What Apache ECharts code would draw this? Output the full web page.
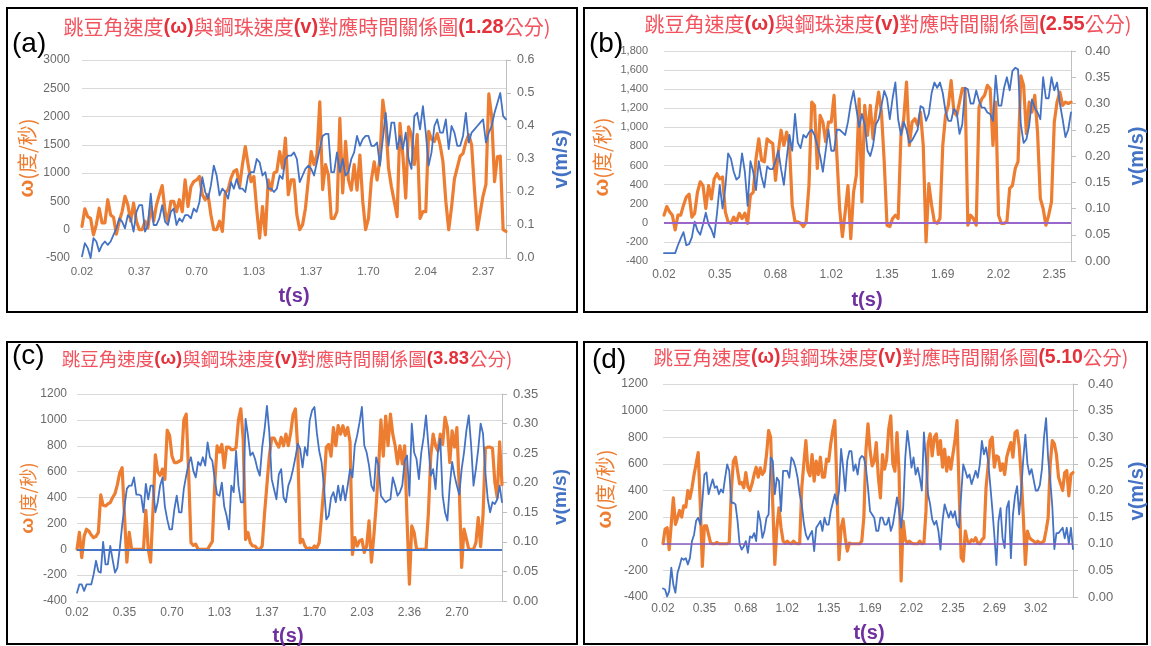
<!DOCTYPE html>
<html>
<head>
<meta charset="utf-8">
<script src="https://cdn.jsdelivr.net/npm/echarts@6/dist/echarts.min.js"></script>
<style>
  html, body { margin: 0; padding: 0; background: #ffffff; }
  #chart { width: 1151px; height: 646px; }
</style>
</head>
<body>
<div id="chart"></div>
<script>
// ---- measured data: ω (度/秒) and v (m/s) per video frame ----
const omegaA = [
  60,370,230,200,-90,90,380,120,120,530,
  260,220,-80,150,320,590,440,150,470,150,
  0,0,150,30,410,150,440,620,780,320,
  150,500,500,320,530,320,880,410,760,850,
  880,940,620,530,620,260,0,0,150,-30,
  650,710,910,1030,1060,760,1150,1470,1150,850,
  940,350,-150,410,-90,880,700,1000,1030,1380,
  1090,1620,620,880,880,260,0,90,380,880,
  1380,1150,1320,2260,710,1150,970,200,200,320,
  1970,650,1560,880,700,1150,700,1320,500,0,
  200,880,1200,880,1260,2290,1910,1090,760,500,
  230,1880,1320,560,1820,1680,1150,1680,200,320,
  320,1740,1600,1560,1700,1500,1200,500,0,400,
  900,1100,1300,1350,1550,1680,1500,700,0,300,
  600,800,2400,2000,850,1290,1300,0,-30
];
const speedA = [
  0.005,0.045,0.03,0.0,0.06,0.05,0.02,0.04,0.05,0.04,
  0.05,0.07,0.09,0.12,0.11,0.09,0.13,0.12,0.08,0.14,
  0.16,0.16,0.08,0.1,0.195,0.1,0.1,0.12,0.16,0.11,
  0.1,0.14,0.15,0.1,0.12,0.11,0.13,0.13,0.12,0.15,
  0.14,0.17,0.245,0.2,0.18,0.22,0.28,0.25,0.19,0.21,
  0.2,0.18,0.23,0.21,0.24,0.21,0.21,0.2,0.25,0.26,
  0.26,0.3,0.29,0.25,0.26,0.21,0.21,0.2,0.21,0.25,
  0.24,0.3,0.31,0.31,0.32,0.3,0.23,0.25,0.27,0.28,
  0.27,0.25,0.29,0.33,0.37,0.376,0.376,0.26,0.26,0.32,
  0.26,0.3,0.25,0.26,0.3,0.32,0.37,0.34,0.36,0.37,
  0.37,0.34,0.34,0.35,0.28,0.36,0.44,0.34,0.41,0.41,
  0.33,0.37,0.33,0.38,0.3,0.27,0.43,0.44,0.39,0.46,
  0.38,0.28,0.32,0.4,0.42,0.38,0.38,0.42,0.33,0.4,
  0.38,0.34,0.34,0.37,0.44,0.35,0.38,0.39,0.4,0.41,
  0.42,0.35,0.38,0.4,0.44,0.47,0.5,0.43,0.42
];
const omegaB = [
  80,170,115,80,-75,80,80,185,270,300,
  60,100,320,430,390,150,390,250,460,515,
  460,480,115,10,-5,60,10,100,45,100,
  -5,290,320,670,880,655,640,880,850,830,
  445,740,970,810,950,810,185,10,10,-5,
  -40,10,390,1265,1230,570,1125,1055,850,1055,
  1055,1335,710,150,-145,115,390,-165,320,500,
  1300,220,1230,915,1230,880,1160,1370,1160,640,
  -25,-40,45,80,45,915,1090,1475,810,1055,
  1090,1020,1160,810,-200,410,185,10,-5,45,
  810,1125,1230,1490,1160,1125,1265,1405,1405,-25,
  80,45,-25,1210,1300,1335,1440,1405,810,1265,
  80,-5,-5,10,360,390,570,640,1540,1440,
  935,1265,1160,1335,950,255,150,-25,80,220,
  1055,1265,1370,1230,1265,1250,1265
];
const speedB = [
  0.015,0.015,0.015,0.015,0.015,0.03,0.043,0.055,0.03,0.032,
  0.045,0.075,0.058,0.05,0.07,0.092,0.07,0.06,0.045,0.09,
  0.145,0.1,0.14,0.205,0.195,0.17,0.155,0.16,0.205,0.17,
  0.105,0.19,0.17,0.135,0.19,0.16,0.14,0.18,0.175,0.175,
  0.19,0.21,0.175,0.145,0.195,0.24,0.21,0.28,0.225,0.215,
  0.24,0.235,0.245,0.25,0.24,0.22,0.2,0.17,0.21,0.25,
  0.21,0.21,0.25,0.25,0.245,0.24,0.265,0.3,0.324,0.29,
  0.255,0.28,0.26,0.21,0.2,0.22,0.26,0.27,0.295,0.324,
  0.31,0.27,0.31,0.34,0.27,0.24,0.265,0.25,0.225,0.23,
  0.24,0.25,0.295,0.292,0.267,0.28,0.32,0.34,0.33,0.34,
  0.32,0.285,0.267,0.267,0.29,0.283,0.242,0.26,0.33,0.327,
  0.3,0.3,0.325,0.305,0.292,0.292,0.283,0.28,0.267,0.353,
  0.296,0.296,0.33,0.35,0.325,0.362,0.368,0.365,0.26,0.225,
  0.232,0.258,0.308,0.292,0.283,0.27,0.35,0.31,0.31,0.35,
  0.325,0.34,0.3,0.27,0.236,0.25,0.283
];
const omegaC = [
  0,130,-65,100,155,140,110,90,100,130,
  420,340,335,350,360,400,430,500,590,630,
  260,-100,130,0,0,0,0,0,0,300,
  0,-100,300,730,600,570,620,540,920,880,
  720,670,670,680,690,1000,1045,600,50,30,
  40,0,0,0,0,0,30,60,500,800,
  750,810,630,790,790,770,770,785,1000,1085,
  850,75,130,50,25,25,0,0,25,280,
  500,720,860,860,820,790,865,800,890,800,
  900,1040,1085,760,50,75,25,0,10,0,
  25,10,50,260,490,790,810,720,940,800,
  955,890,955,880,940,830,-40,90,25,65,
  75,-25,25,220,-100,100,340,620,1000,720,
  1030,800,1045,890,800,660,800,660,800,230,
  -270,180,130,0,0,0,0,0,280,720,
  890,800,760,890,810,1020,940,670,915,790,
  940,470,-140,155,80,0,0,0,50,245,
  20,260,780,790,790,780,515,400,830,500
];
const speedC = [
  0.014,0.028,0.028,0.017,0.028,0.028,0.028,0.045,0.068,0.05,
  0.048,0.1,0.062,0.062,0.093,0.07,0.048,0.056,0.088,0.127,
  0.16,0.19,0.195,0.195,0.209,0.18,0.18,0.178,0.15,0.198,
  0.172,0.195,0.195,0.15,0.167,0.195,0.209,0.16,0.138,0.121,
  0.121,0.155,0.178,0.15,0.15,0.19,0.212,0.232,0.243,0.22,
  0.209,0.235,0.229,0.243,0.229,0.268,0.243,0.237,0.206,0.18,
  0.178,0.2,0.16,0.144,0.121,0.195,0.184,0.254,0.195,0.167,
  0.167,0.308,0.28,0.246,0.251,0.24,0.223,0.212,0.26,0.29,
  0.33,0.285,0.206,0.189,0.172,0.214,0.223,0.175,0.167,0.195,
  0.206,0.223,0.243,0.266,0.257,0.226,0.26,0.246,0.305,0.322,
  0.328,0.285,0.254,0.235,0.195,0.138,0.144,0.175,0.184,0.167,
  0.195,0.17,0.195,0.17,0.195,0.223,0.209,0.263,0.28,0.302,
  0.328,0.263,0.251,0.229,0.195,0.186,0.243,0.229,0.178,0.172,
  0.167,0.17,0.172,0.209,0.195,0.178,0.184,0.195,0.237,0.246,
  0.178,0.3,0.251,0.24,0.206,0.251,0.277,0.314,0.263,0.212,
  0.223,0.189,0.251,0.274,0.178,0.15,0.136,0.195,0.235,0.212,
  0.195,0.18,0.223,0.251,0.288,0.314,0.263,0.195,0.223,0.257,
  0.3,0.283,0.217,0.172,0.15,0.167,0.164,0.172,0.195,0.167
];
const omegaD = [
  0,110,120,-45,150,345,145,195,250,200,
  285,275,400,340,420,520,600,685,300,-170,
  135,135,70,5,0,0,10,0,0,0,
  0,0,10,400,620,650,550,450,460,420,
  535,430,400,450,520,575,500,570,520,545,
  670,850,800,300,-155,120,270,120,20,5,
  20,5,0,20,5,0,0,420,600,775,
  550,510,670,470,620,520,650,500,500,635,
  620,750,850,925,420,-120,120,185,45,-55,
  5,0,0,0,0,0,20,200,700,900,
  700,585,620,760,500,345,670,560,635,860,
  960,600,545,835,545,-280,170,30,5,20,
  5,0,0,0,20,0,5,245,750,825,
  660,800,825,670,775,575,710,545,650,560,
  670,775,925,400,-105,-130,95,20,5,30,
  20,45,5,0,30,45,420,585,775,800,
  575,660,650,550,600,520,650,710,760,650,
  835,850,735,500,210,-155,95,45,30,20,
  5,20,5,10,20,100,195,600,775,750,
  670,500,450,400,535,550,360,520,535
];
const speedD = [
  0.016,0.014,0.001,0.011,0.055,0.023,0.008,0.045,0.058,0.073,
  0.07,0.073,0.061,0.073,0.105,0.117,0.143,0.149,0.136,0.18,
  0.23,0.234,0.193,0.208,0.221,0.205,0.208,0.193,0.202,0.196,
  0.224,0.249,0.237,0.177,0.177,0.174,0.143,0.099,0.089,0.095,
  0.105,0.083,0.114,0.111,0.12,0.105,0.161,0.143,0.111,0.124,
  0.149,0.155,0.262,0.256,0.193,0.224,0.218,0.161,0.237,0.237,
  0.237,0.224,0.262,0.256,0.243,0.224,0.193,0.174,0.139,0.117,
  0.108,0.117,0.124,0.086,0.13,0.136,0.143,0.124,0.149,0.136,
  0.136,0.161,0.177,0.193,0.174,0.199,0.278,0.243,0.199,0.256,
  0.274,0.274,0.237,0.249,0.23,0.259,0.265,0.262,0.243,0.205,
  0.161,0.155,0.149,0.124,0.124,0.149,0.149,0.136,0.136,0.149,
  0.124,0.136,0.161,0.187,0.165,0.13,0.168,0.262,0.312,0.281,
  0.243,0.262,0.23,0.243,0.224,0.2,0.309,0.256,0.193,0.174,
  0.146,0.136,0.143,0.124,0.089,0.143,0.174,0.161,0.149,0.161,
  0.149,0.161,0.136,0.13,0.193,0.249,0.237,0.224,0.23,0.212,
  0.224,0.237,0.224,0.249,0.293,0.268,0.281,0.256,0.212,0.167,
  0.117,0.06,0.142,0.167,0.11,0.092,0.167,0.18,0.073,0.155,
  0.19,0.208,0.155,0.2,0.26,0.305,0.25,0.23,0.24,0.22,
  0.2,0.2,0.21,0.24,0.3,0.336,0.26,0.22,0.17,0.09,
  0.12,0.12,0.125,0.13,0.11,0.13,0.1,0.13,0.09
];

// time labels shown on the t(s) axis, one every LABEL_STEP frames
const timeTicksA = ['0.02','0.37','0.70','1.03','1.37','1.70','2.04','2.37'];
const timeTicksB = ['0.02','0.35','0.68','1.02','1.35','1.69','2.02','2.35'];
const timeTicksC = ['0.02','0.35','0.70','1.03','1.37','1.70','2.03','2.36','2.70'];
const timeTicksD = ['0.02','0.35','0.68','1.02','1.35','1.69','2.02','2.35','2.69','3.02'];
const LABEL_STEP = 20;

// bean heights (公分) for each run
const heights = ['1.28', '2.55', '3.83', '5.10'];
const panelTags = ['(a)', '(b)', '(c)', '(d)'];

// ---- layout & styling ----
const ORANGE = '#ED7D31';
const BLUE = '#4472C4';
const PURPLE = '#7030A0';
const GRID_LINE = '#d9d9d9';
const TICK_TEXT = '#6a6a6a';
const LATIN = '"Liberation Sans", Arial, sans-serif';
const CJK = '"Noto Sans CJK TC", "Noto Sans CJK SC", sans-serif';

const panels = [
  {
    omega: omegaA, speed: speedA, ticks: timeTicksA,
    box: [7, 8, 570, 304],
    grid: { left: 82, top: 60, width: 424, height: 198 },
    left: { min: -500, max: 3000, interval: 500, commas: false, size: 12, margin: 12 },
    right: { min: 0, max: 0.6, interval: 0.1, digits: 1, size: 12.5, margin: 11 },
    bottom: { size: 11.5, margin: 8 },
    zero: null,
    title: { x: 307, y: 27, size: 20 },
    tag: { x: 12, y: 44 },
    omegaName: { x: 27, y: 158, size: 20 },
    speedName: { x: 561, y: 159, size: 20 },
    timeName: { x: 294, y: 296 }
  },
  {
    omega: omegaB, speed: speedB, ticks: timeTicksB,
    box: [584, 8, 563, 304],
    grid: { left: 664, top: 51, width: 407, height: 210 },
    left: { min: -400, max: 1800, interval: 200, commas: true, size: 11, margin: 16 },
    right: { min: 0, max: 0.4, interval: 0.05, digits: 2, size: 13, margin: 14 },
    bottom: { size: 12, margin: 8 },
    zero: { color: '#9966cc', width: 2.2 },
    title: { x: 888, y: 24, size: 20 },
    tag: { x: 589, y: 44 },
    omegaName: { x: 602, y: 157, size: 20 },
    speedName: { x: 1137, y: 156, size: 20 },
    timeName: { x: 867, y: 300 }
  },
  {
    omega: omegaC, speed: speedC, ticks: timeTicksC,
    box: [7, 342, 570, 302],
    grid: { left: 77, top: 394, width: 425, height: 207 },
    left: { min: -400, max: 1200, interval: 200, commas: false, size: 12, margin: 10 },
    right: { min: 0, max: 0.35, interval: 0.05, digits: 2, size: 13, margin: 11 },
    bottom: { size: 12, margin: 6 },
    zero: { color: BLUE, width: 2 },
    title: { x: 287, y: 359, size: 18.5 },
    tag: { x: 12, y: 356 },
    omegaName: { x: 28, y: 498, size: 18 },
    speedName: { x: 561, y: 497, size: 19 },
    timeName: { x: 288, y: 636 }
  },
  {
    omega: omegaD, speed: speedD, ticks: timeTicksD,
    box: [584, 342, 563, 302],
    grid: { left: 663, top: 384, width: 410, height: 213 },
    left: { min: -400, max: 1200, interval: 200, commas: false, size: 12, margin: 15 },
    right: { min: 0, max: 0.4, interval: 0.05, digits: 2, size: 13, margin: 15 },
    bottom: { size: 12, margin: 6 },
    zero: { color: '#8a5cc0', width: 1.6 },
    title: { x: 891, y: 358, size: 19.5 },
    tag: { x: 592, y: 360 },
    omegaName: { x: 605, y: 489, size: 20 },
    speedName: { x: 1137, y: 491, size: 20 },
    timeName: { x: 869, y: 633 }
  }
];

function withCommas(v) {
  return String(v).replace(/\B(?=(\d{3})+(?!\d))/g, ',');
}

const grids = [], xAxes = [], yAxes = [], series = [], graphics = [];

panels.forEach((p, k) => {
  grids.push(Object.assign({ outerBoundsMode: 'none', containLabel: false }, p.grid));

  const ticks = p.ticks;
  xAxes.push({
    type: 'category',
    gridIndex: k,
    data: p.omega.map((_, i) => String(i)),
    boundaryGap: false,
    axisLine: { show: false },
    axisTick: { show: false },
    splitLine: { show: false },
    axisLabel: {
      interval: (i) => i % LABEL_STEP === 0,
      formatter: (v, i) => (ticks[i / LABEL_STEP] !== undefined ? ticks[i / LABEL_STEP] : ''),
      color: TICK_TEXT,
      fontFamily: LATIN,
      fontSize: p.bottom.size,
      margin: p.bottom.margin,
      hideOverlap: false
    }
  });

  yAxes.push({
    type: 'value',
    gridIndex: k,
    position: 'left',
    min: p.left.min, max: p.left.max, interval: p.left.interval,
    axisLine: { show: false },
    axisTick: { show: false },
    splitLine: { show: true, lineStyle: { color: GRID_LINE, width: 1 } },
    axisLabel: {
      formatter: p.left.commas ? withCommas : (v) => String(v),
      color: TICK_TEXT, fontFamily: LATIN, fontSize: p.left.size, margin: p.left.margin
    }
  });

  yAxes.push({
    type: 'value',
    gridIndex: k,
    position: 'right',
    min: p.right.min, max: p.right.max, interval: p.right.interval,
    axisLine: { show: true, lineStyle: { color: '#bfbfbf', width: 1 } },
    axisTick: { show: true, inside: false, length: 5, lineStyle: { color: '#bfbfbf' } },
    splitLine: { show: false },
    axisLabel: {
      formatter: (v) => v.toFixed(p.right.digits),
      color: TICK_TEXT, fontFamily: LATIN, fontSize: p.right.size, margin: p.right.margin
    }
  });

  const omegaSeries = {
    type: 'line',
    name: 'ω',
    xAxisIndex: k,
    yAxisIndex: 2 * k,
    data: p.omega,
    symbol: 'none',
    showSymbol: false,
    lineStyle: { color: ORANGE, width: 3.2, join: 'round', cap: 'round' },
    itemStyle: { color: ORANGE },
    z: 2
  };
  if (p.zero) {
    omegaSeries.markLine = {
      silent: true,
      symbol: 'none',
      label: { show: false },
      animation: false,
      lineStyle: { color: p.zero.color, width: p.zero.width, type: 'solid' },
      data: [{ yAxis: 0 }]
    };
  }
  series.push(omegaSeries);

  series.push({
    type: 'line',
    name: 'v',
    xAxisIndex: k,
    yAxisIndex: 2 * k + 1,
    data: p.speed,
    symbol: 'none',
    showSymbol: false,
    lineStyle: { color: BLUE, width: 1.8, join: 'round', cap: 'round' },
    itemStyle: { color: BLUE },
    z: 3
  });

  // panel frame
  graphics.push({
    type: 'rect',
    silent: true,
    shape: { x: p.box[0], y: p.box[1], width: p.box[2], height: p.box[3] },
    style: { fill: 'none', stroke: '#000', lineWidth: 2 },
    z: 50
  });

  // chart title
  const ts = p.title.size;
  graphics.push({
    type: 'text',
    x: p.title.x, y: p.title.y, z: 60,
    style: {
      text: '{c|跳豆角速度}{l|(ω)}{c|與鋼珠速度}{l|(v)}{c|對應時間關係圖}{l|(' + heights[k] + '}{c|公分)}',
      align: 'center', verticalAlign: 'middle',
      rich: {
        c: { fontFamily: CJK, fontSize: ts, fontWeight: 'normal', fill: '#f2525d', color: '#f2525d' },
        l: { fontFamily: LATIN, fontSize: ts, fontWeight: 'bold', fill: '#e4323c', color: '#e4323c' }
      }
    }
  });

  // panel tag
  graphics.push({
    type: 'text',
    x: p.tag.x, y: p.tag.y, z: 60,
    style: {
      text: panelTags[k], align: 'left', verticalAlign: 'middle',
      fontFamily: LATIN, fontSize: 28, fill: '#000'
    }
  });

  // left axis name
  const os = p.omegaName.size;
  graphics.push({
    type: 'text',
    x: p.omegaName.x, y: p.omegaName.y, rotation: Math.PI / 2, z: 60,
    style: {
      text: '{w|ω}{c|(度/秒)}', align: 'center', verticalAlign: 'middle',
      rich: {
        w: { fontFamily: LATIN, fontSize: os + 1, fontWeight: 'bold', fill: ORANGE, color: ORANGE },
        c: { fontFamily: CJK, fontSize: os, fontWeight: 'normal', fill: ORANGE, color: ORANGE }
      }
    }
  });

  // right axis name
  graphics.push({
    type: 'text',
    x: p.speedName.x, y: p.speedName.y, rotation: Math.PI / 2, z: 60,
    style: {
      text: 'v(m/s)', align: 'center', verticalAlign: 'middle',
      fontFamily: LATIN, fontSize: p.speedName.size, fontWeight: 'bold', fill: BLUE
    }
  });

  // time axis name
  graphics.push({
    type: 'text',
    x: p.timeName.x, y: p.timeName.y, z: 60,
    style: {
      text: 't(s)', align: 'center', verticalAlign: 'middle',
      fontFamily: LATIN, fontSize: 20, fontWeight: 'bold', fill: PURPLE
    }
  });
});

const chart = echarts.init(document.getElementById('chart'), null, { renderer: 'canvas' });
chart.setOption({
  backgroundColor: '#ffffff',
  animation: false,
  grid: grids,
  xAxis: xAxes,
  yAxis: yAxes,
  series: series,
  graphic: graphics
});
</script>
</body>
</html>
